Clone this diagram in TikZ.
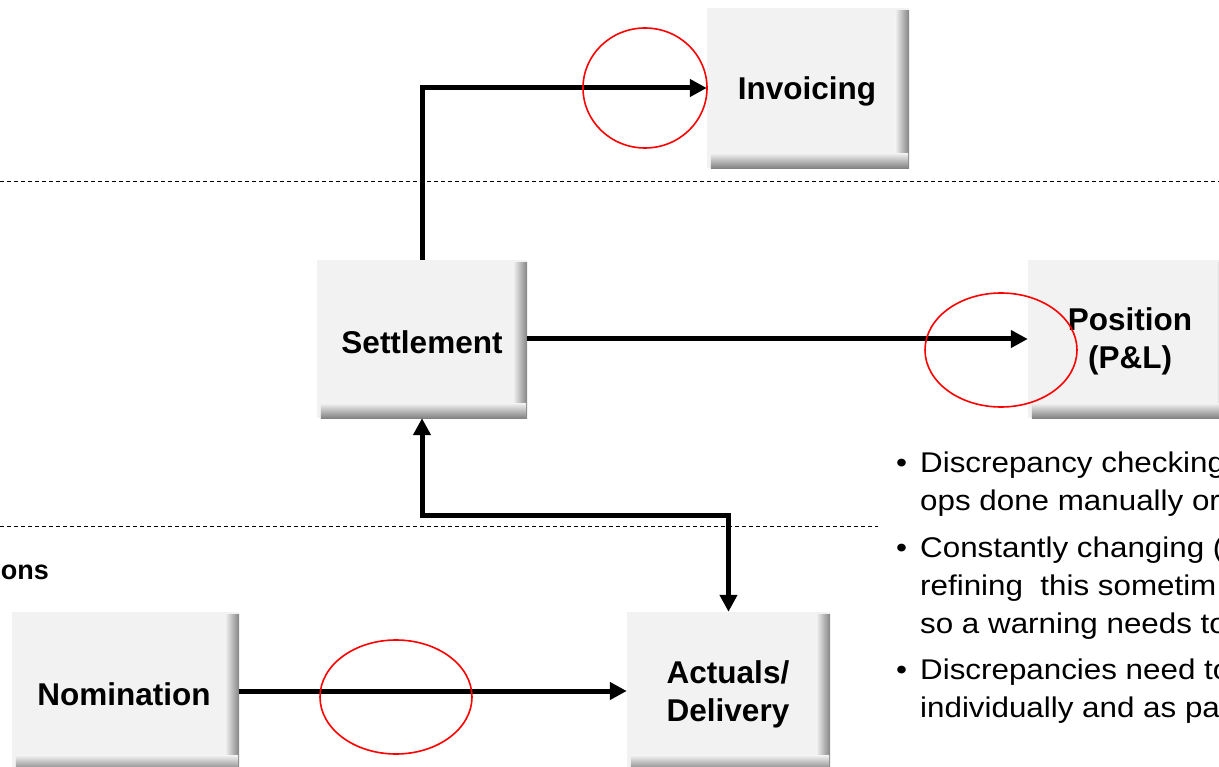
\documentclass[tikz,border=0pt]{standalone}
\usepackage{fontspec}
\setmainfont{Liberation Sans}
\newfontfamily\notefont[FakeStretch=1.1]{Liberation Sans}
\usetikzlibrary{arrows.meta}
\definecolor{boxfill}{HTML}{F2F2F2}
\definecolor{shadowgray}{HTML}{828282}
\tikzset{
  procbox/.style 2 args={draw=none, fill=boxfill, inner sep=0pt,
    minimum width=#1pt, minimum height=#2pt, align=center,
    font=\fontsize{31.5}{38}\selectfont\bfseries},
  flow/.style={line width=5pt, -{Triangle[length=17pt,width=17pt]}},
  bothflow/.style={line width=5pt, {Triangle[length=17pt,width=17pt]}-{Triangle[length=17pt,width=17pt]}},
  mark ring/.style={draw=red, line width=1.6pt},
  sep line/.style={line width=0.8pt, dash pattern=on 4pt off 3pt},
  bullettext/.style={anchor=base west, inner sep=0pt, font=\notefont\fontsize{28.5}{34}\selectfont},
}
\newcommand\boxshade[1]{%
  \shade[left color=boxfill, right color=shadowgray]
    ([xshift=-14pt,yshift=-3pt]#1.north east) rectangle (#1.south east);
  \shade[top color=boxfill, bottom color=shadowgray]
    ([yshift=15pt,xshift=4pt]#1.south west) rectangle ([xshift=-1pt]#1.south east);
}
\begin{document}
\begin{tikzpicture}[x=1pt,y=-1pt]
\useasboundingbox (0,0) rectangle (1219,767);
\clip (0,0) rectangle (1219,767);

% separators
\coordinate (s1a) at (0,181);
\coordinate (s1b) at (1219,181);
\coordinate (s2a) at (0,526);
\coordinate (s2b) at (878,526);
\draw[sep line] (s1a) -- (s1b);
\draw[sep line] (s2a) -- (s2b);

% boxes
\node[procbox={202}{160}] (inv) at (808,88) {};
\node[procbox={210}{158}] (set) at (422,339) {};
\node[procbox={202}{158}] (pos) at (1129,339) {};
\node[procbox={227}{158}] (nom) at (125.5,691) {};
\node[procbox={203}{158}] (act) at (728.5,691) {};
\boxshade{inv}
\boxshade{set}
\boxshade{pos}
\boxshade{nom}
\boxshade{act}
\node[procbox={190}{60}, fill=none] (invl) at (807,91) {Invoicing};
\node[procbox={190}{60}, fill=none] (setl) at (422,342) {Settlement};
\node[procbox={190}{80}, fill=none] (posl) at (1130,341) {Position\\(P\&L)};
\node[procbox={215}{60}, fill=none] (noml) at (124,694) {Nomination};
\node[procbox={190}{80}, fill=none] (actl) at (728,694) {Actuals/\\Delivery};

% partial heading
\node[anchor=base east, inner sep=0pt, font=\fontsize{27}{32}\selectfont\bfseries] (ons) at (49,579) {ons};

% connectors
\draw[flow] (set.north) |- (inv.west);
\draw[flow] (set.east) -- (pos.west);
\coordinate (elb) at (422,515);
\draw[bothflow] (set.south) -- (set.south |- elb) -| (act.north);
\draw[flow] (nom.east) -- (act.west);

% red rings
\draw[mark ring] (645,88) ellipse [x radius=62pt, y radius=60pt];
\draw[mark ring] (1001,350) ellipse [x radius=76pt, y radius=57pt];
\draw[mark ring] (396,697) ellipse [x radius=76pt, y radius=57pt];

% bullet notes
\node[bullettext] (b1) at (896,472) {\textbullet};
\node[bullettext] (t1) at (920,472) {Discrepancy checking};
\node[bullettext] (t2) at (920,510) {ops done manually or};
\node[bullettext] (b2) at (896,557) {\textbullet};
\node[bullettext] (t3) at (920,557) {Constantly changing (};
\node[bullettext] (t4) at (920,595) {refining\ \ this sometim};
\node[bullettext] (t5) at (920,633) {so a warning needs to};
\node[bullettext] (b3) at (896,679) {\textbullet};
\node[bullettext] (t6) at (920,679) {Discrepancies need to};
\node[bullettext] (t7) at (920,717) {individually and as pa};
\end{tikzpicture}
\end{document}
